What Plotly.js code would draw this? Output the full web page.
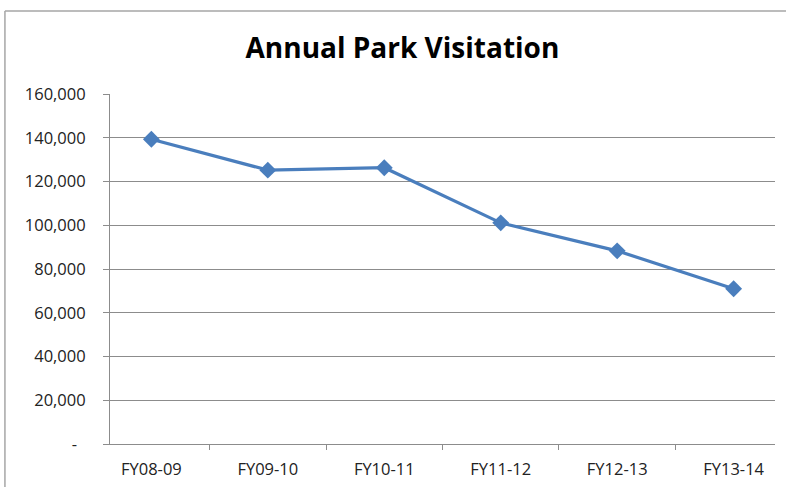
<!DOCTYPE html>
<html>
<head>
<meta charset="utf-8">
<script src="https://cdn.plot.ly/plotly-3.0.1.min.js"></script>
<style>html,body{margin:0;padding:0;background:#fff;}#chart{width:786px;height:487px;}</style>
</head>
<body>
<div id="chart"></div>
<script>
var categories = ["FY08-09", "FY09-10", "FY10-11", "FY11-12", "FY12-13", "FY13-14"];
var visitors = [139300, 125200, 126300, 101100, 88300, 71000];
var yTickVals = [0, 20000, 40000, 60000, 80000, 100000, 120000, 140000, 160000];
var yTickText = ["-\u00a0\u00a0", "20,000", "40,000", "60,000", "80,000", "100,000", "120,000", "140,000", "160,000"];

var trace = {
  x: categories,
  y: visitors,
  type: "scatter",
  mode: "lines+markers",
  line: {color: "#4a7ebd", width: 3.2},
  marker: {symbol: "diamond", size: 13, color: "#4a7ebd"},
  hoverinfo: "x+y"
};

var layout = {
  width: 786,
  height: 487,
  margin: {l: 110, r: 11, t: 94, b: 43, pad: 0},
  paper_bgcolor: "#ffffff",
  plot_bgcolor: "#ffffff",
  showlegend: false,
  font: {family: "Open Sans, sans-serif", size: 16.5, color: "#222222"},
  title: {
    text: "Annual Park Visitation",
    font: {family: "Open Sans, sans-serif", size: 28, weight: 700, color: "#000000"},
    xref: "container", yref: "container",
    x: 0.512, xanchor: "center",
    y: 0.902, yanchor: "middle"
  },
  xaxis: {
    type: "category",
    showgrid: false,
    showline: true,
    linecolor: "#8c8c8c",
    linewidth: 1,
    ticks: "outside",
    tickson: "boundaries",
    ticklen: 5,
    tickcolor: "#8c8c8c",
    ticklabelstandoff: 10,
    tickfont: {size: 16.5, color: "#222222"},
    zeroline: false,
    fixedrange: true
  },
  yaxis: {
    range: [0, 160000],
    tickvals: yTickVals,
    ticktext: yTickText,
    showgrid: true,
    gridcolor: "#8c8c8c",
    gridwidth: 1,
    showline: true,
    linecolor: "#8c8c8c",
    linewidth: 1,
    ticks: "outside",
    ticklen: 6,
    tickcolor: "#8c8c8c",
    ticklabelstandoff: 14,
    tickfont: {size: 16.5, color: "#222222"},
    zeroline: false,
    fixedrange: true
  },
  shapes: [
    {type: "line", xref: "paper", yref: "paper", x0: -0.158, x1: -0.158, y0: -0.2, y1: 1.2375, line: {color: "#a6a6a6", width: 1.5}},
    {type: "line", xref: "paper", yref: "paper", x0: -0.158, x1: 1.1, y0: 1.2375, y1: 1.2375, line: {color: "#a6a6a6", width: 1.5}}
  ]
};

Plotly.newPlot("chart", [trace], layout, {displayModeBar: false, staticPlot: true});
</script>
</body>
</html>
